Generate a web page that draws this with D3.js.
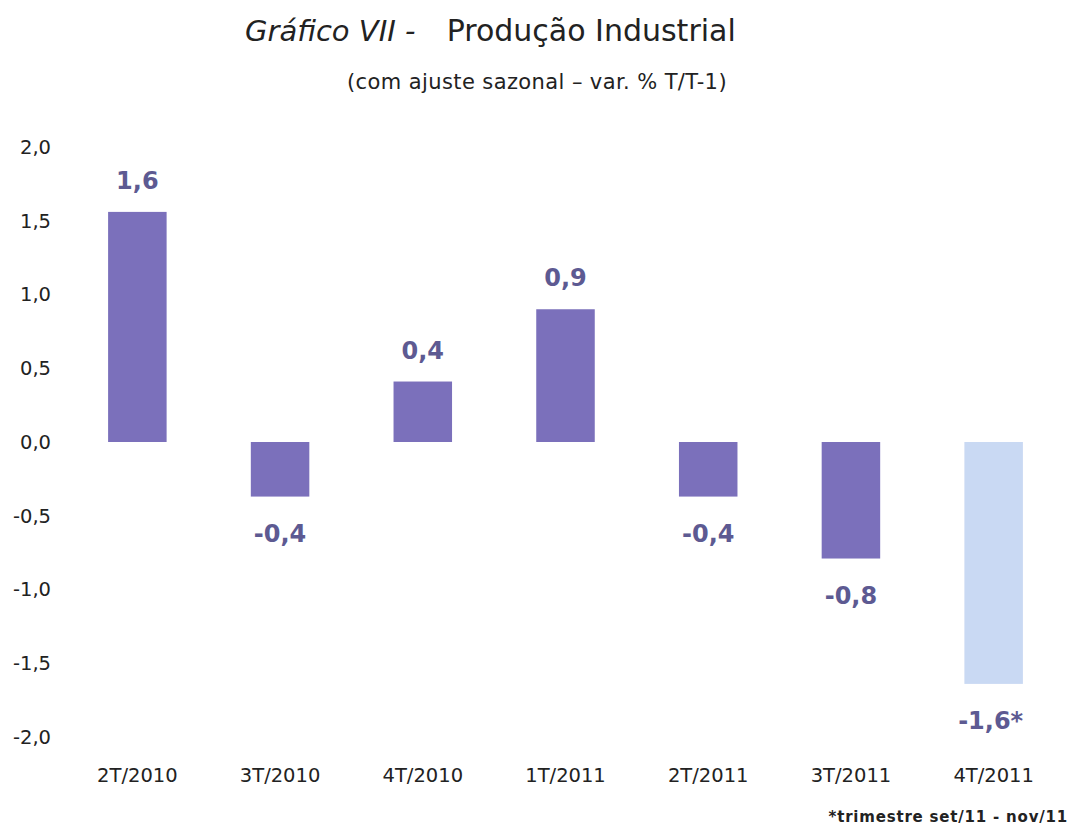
<!DOCTYPE html>
<html>
<head>
<meta charset="utf-8">
<script src="https://cdn.jsdelivr.net/npm/d3@7"></script>
<style>
  body { margin: 0; background: #fff; }
  svg { display: block; }
</style>
</head>
<body>
<div id="chart"></div>
<script>
// quarters and quarterly change (% T/T-1, seasonally adjusted)
var quarters = ['2T/2010', '3T/2010', '4T/2010', '1T/2011', '2T/2011', '3T/2011', '4T/2011'];
var values = [1.56, -0.37, 0.41, 0.90, -0.37, -0.79, -1.64];
var labels = ['1,6', '-0,4', '0,4', '0,9', '-0,4', '-0,8', '-1,6*'];
var yTicks = [2.0, 1.5, 1.0, 0.5, 0.0, -0.5, -1.0, -1.5, -2.0];

var width = 1074, height = 830;
var font = '"DejaVu Sans", Verdana, sans-serif';

var svg = d3.select('#chart')
  .append('svg')
  .attr('width', width)
  .attr('height', height);

var x = d3.scaleBand()
  .domain(quarters)
  .range([66, 1065])
  .paddingInner(0.59)
  .paddingOuter(0.295);

var y = d3.scaleLinear()
  .domain([-2, 2])
  .range([737, 147]);

// title
var title = svg.append('text')
  .attr('x', 245)
  .attr('y', 41)
  .attr('font-family', font)
  .attr('font-size', 29)
  .attr('fill', '#222');
title.append('tspan').attr('font-style', 'italic').text('Gráfico VII - ');
title.append('tspan').attr('dx', 22).attr('font-size', 30).text('Produção Industrial');

svg.append('text')
  .attr('x', 537)
  .attr('y', 89)
  .attr('text-anchor', 'middle')
  .attr('font-family', font)
  .attr('font-size', 21)
  .attr('letter-spacing', 0.4)
  .attr('fill', '#222')
  .text('(com ajuste sazonal – var. % T/T-1)');

// y axis, labels only
var yAxis = svg.append('g')
  .attr('transform', 'translate(51,0)')
  .call(d3.axisLeft(y)
    .tickValues(yTicks)
    .tickSize(0)
    .tickPadding(0)
    .tickFormat(function(d) { return d3.format('.1f')(d).replace('.', ',').replace('−', '-'); }));
yAxis.select('.domain').remove();
yAxis.selectAll('text')
  .attr('font-family', font)
  .attr('font-size', 19.5)
  .attr('fill', '#222');

// x axis, labels only
var xAxis = svg.append('g')
  .attr('transform', 'translate(0,768)')
  .call(d3.axisBottom(x).tickSize(0).tickPadding(0));
xAxis.select('.domain').remove();
xAxis.selectAll('text')
  .attr('font-family', font)
  .attr('font-size', 19.5)
  .attr('fill', '#222');

var data = quarters.map(function(q, i) {
  return { q: q, v: values[i], label: labels[i], last: i === quarters.length - 1 };
});

svg.selectAll('rect.bar')
  .data(data)
  .enter().append('rect')
  .attr('class', 'bar')
  .attr('x', function(d) { return x(d.q); })
  .attr('width', x.bandwidth())
  .attr('y', function(d) { return y(Math.max(0, d.v)); })
  .attr('height', function(d) { return Math.abs(y(d.v) - y(0)); })
  .attr('fill', function(d) { return d.last ? '#c9d9f3' : '#7b70bb'; });

svg.selectAll('text.val')
  .data(data)
  .enter().append('text')
  .attr('class', 'val')
  .attr('x', function(d) { return x(d.q) + x.bandwidth() / 2 + (d.last ? -3 : 0); })
  .attr('y', function(d) { return d.v >= 0 ? y(d.v) - 23 : y(d.v) + 45; })
  .attr('text-anchor', 'middle')
  .attr('font-family', font)
  .attr('font-weight', 'bold')
  .attr('font-size', 24)
  .attr('fill', '#5d5a92')
  .text(function(d) { return d.label; });

svg.append('text')
  .attr('x', 1068)
  .attr('y', 822)
  .attr('text-anchor', 'end')
  .attr('font-family', font)
  .attr('font-weight', 'bold')
  .attr('font-size', 15)
  .attr('letter-spacing', 0.8)
  .attr('fill', '#222')
  .text('*trimestre set/11 - nov/11');
</script>
</body>
</html>
